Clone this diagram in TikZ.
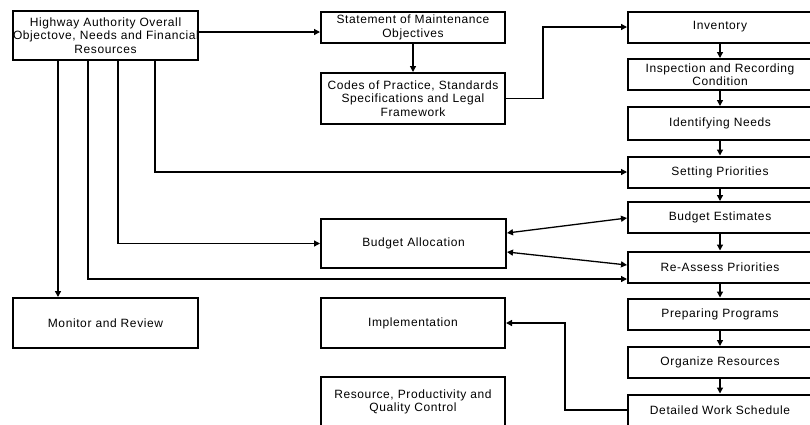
\documentclass[tikz,border=0pt]{standalone}
\usepackage{fontspec}
\setmainfont{Liberation Sans}[LetterSpace=5]
\usetikzlibrary{arrows.meta,calc}

\begin{document}
\begin{tikzpicture}[x=1pt,y=-1pt,
  box/.style={draw, line width=2pt, rectangle, align=center, inner xsep=0pt, inner ysep=0pt,
    font=\fontsize{12}{13.5}\selectfont},
  col/.style={box, text width=184pt, minimum height=31pt},
  link/.style={line width=1.3pt, -{Triangle[length=6pt,width=6pt]}},
  both/.style={line width=1.3pt, {Triangle[length=6pt,width=6pt]}-{Triangle[length=6pt,width=6pt]}}]
\useasboundingbox (0,0) rectangle (810,424);

% left and middle boxes
\node[box, text width=185pt, minimum height=49pt] (hw) at (105.5,35.5)
  {Highway Authority Overall\\Objectove, Needs and Financial\\Resources};
\node[box, text width=184pt, minimum height=31pt] (stmt) at (413,27.5)
  {Statement of Maintenance\\Objectives};
\node[box, text width=184pt, minimum height=51pt] (codes) at (413,98.5)
  {Codes of Practice, Standards\\Specifications and Legal\\Framework};
\node[box, text width=185pt, minimum height=49pt] (alloc) at (413.5,243.5) {Budget Allocation};
\node[box, text width=185pt, minimum height=50pt] (mon) at (105.5,323) {Monitor and Review};
\node[box, text width=184pt, minimum height=50pt] (impl) at (413,323) {Implementation};
\node[box, text width=184pt, minimum height=50pt] (qc) at (413,402)
  {Resource, Productivity and\\Quality Control};

% right-hand process column
\node[col] (inv)   at (720,27)    {Inventory};
\node[col] (insp)  at (720,74.5)  {Inspection and Recording\\Condition};
\node[col, minimum height=33pt] (ident) at (720,123.5) {Identifying Needs};
\node[col] (setp)  at (720,172)   {Setting Priorities};
\node[col] (best)  at (720,217.5) {Budget Estimates};
\node[col] (reas)  at (720,267)   {Re-Assess Priorities};
\node[col] (prep)  at (720,314)   {Preparing Programs};
\node[col] (org)   at (720,362.5) {Organize Resources};
\node[col] (det)   at (720,410)   {Detailed Work Schedule};

% column chain
\foreach \a/\b in {inv/insp, insp/ident, ident/setp, setp/best, best/reas, reas/prep, prep/org, org/det}
  \draw[link] (\a.south) -- (\b.north);

% connectors
\draw[link] (hw.east |- 0,32) -- (stmt.west |- 0,32);
\draw[link] (stmt.south) -- (codes.north);
\draw[link] (codes.east) -- ++(37,0) |- (inv.west);

\draw[link] (hw.south -| 58,0) -- (mon.north -| 58,0);
\draw[link] (hw.south -| 88,0) |- (reas.west |- 0,279);
\draw[link] (hw.south -| 118,0) |- (alloc.west);
\draw[link] (hw.south -| 155,0) |- (setp.west);

\draw[both] (alloc.east |- 0,233) -- (best.west |- 0,218);
\draw[both] (alloc.east |- 0,252) -- (reas.west |- 0,265);

\draw[link] (det.west) -- ++(-62,0) |- (impl.east);
\end{tikzpicture}
\end{document}
